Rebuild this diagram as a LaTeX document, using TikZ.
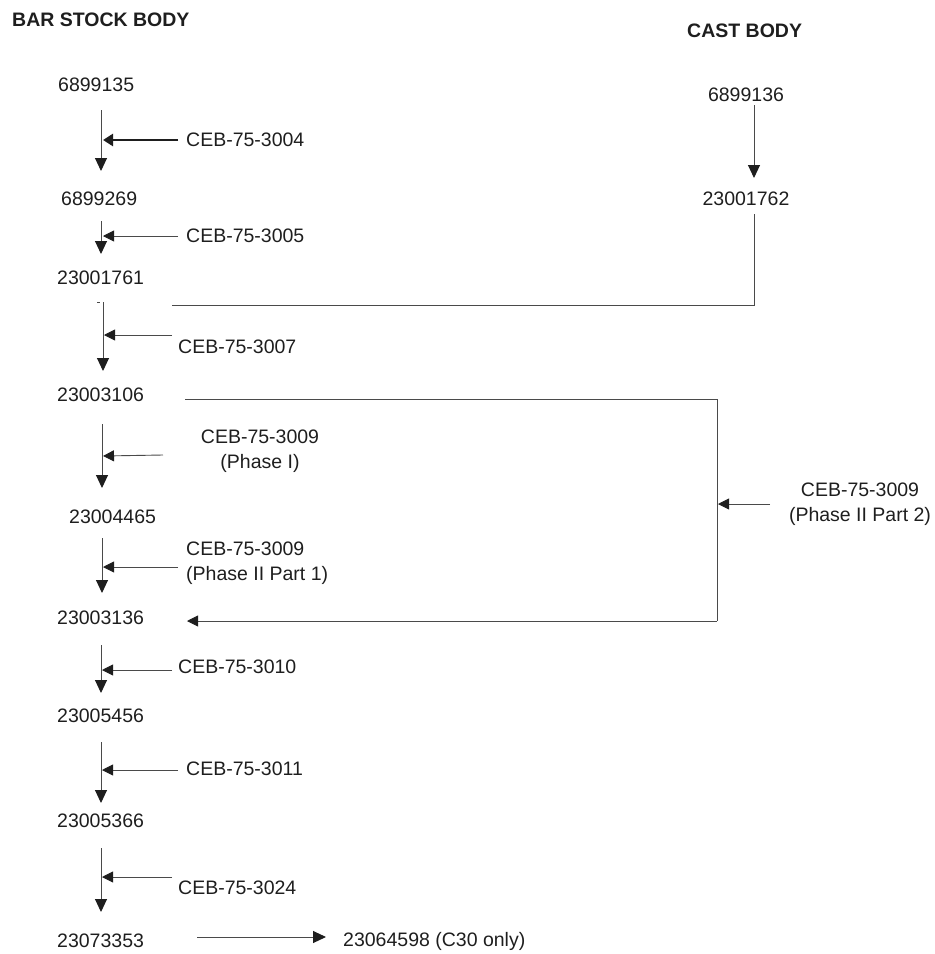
\documentclass[tikz,border=0pt]{standalone}
\usepackage{fontspec}
\setmainfont{Liberation Sans}
\usetikzlibrary{arrows.meta}
\definecolor{ink}{HTML}{1E1E1E}
\definecolor{wire}{HTML}{4A4A4A}

\tikzset{
  part/.style={inner sep=0pt, text=ink, font=\fontsize{19.5}{25}\selectfont},
  head/.style={inner sep=0pt, text=ink, font=\fontsize{19.5}{25}\selectfont\bfseries},
  ceb/.style={part, align=center},
  flow/.style={draw=wire, line width=1pt, -{Triangle[width=12pt,length=13pt,color=ink]}},
  feed/.style={draw=wire, line width=0.9pt, -{Triangle[width=11pt,length=11pt,color=ink]}},
  boldfeed/.style={draw=ink, line width=2.6pt, -{Triangle[width=12pt,length=10pt,color=ink]}},
  link/.style={draw=wire, line width=1pt},
}

\begin{document}
\begin{tikzpicture}[x=1pt,y=-1pt]
  \useasboundingbox (0,0) rectangle (935,954);

  % column headings
  \node[head, anchor=west] (hbar)  at (12,20)  {BAR STOCK BODY};
  \node[head, anchor=west] (hcast) at (687,31) {CAST BODY};

  % bar stock part numbers
  \node[part, anchor=west] (p1) at (58,85)   {6899135};
  \node[part, anchor=west] (p2) at (61,199)  {6899269};
  \node[part, anchor=west] (p3) at (57,278)  {23001761};
  \node[part, anchor=west] (p4) at (57,395)  {23003106};
  \node[part, anchor=west] (p5) at (69,517)  {23004465};
  \node[part, anchor=west] (p6) at (57,618)  {23003136};
  \node[part, anchor=west] (p7) at (57,716)  {23005456};
  \node[part, anchor=west] (p8) at (57,821)  {23005366};
  \node[part, anchor=west] (p9) at (57,941)  {23073353};
  \node[part, anchor=west] (p10) at (343,941) {23064598 (C30 only)};

  % cast body part numbers
  \node[part] (c1) at (746,95)  {6899136};
  \node[part] (c2) at (746,199) {23001762};

  % change notices
  \node[part, anchor=west] (e1) at (186,140) {CEB-75-3004};
  \node[part, anchor=west] (e2) at (186,236) {CEB-75-3005};
  \node[part, anchor=west] (e3) at (178,347) {CEB-75-3007};
  \node[ceb] (e4) at (260,451) {CEB-75-3009\\(Phase I)};
  \node[part, anchor=west, align=left] (e5) at (186,563) {CEB-75-3009\\(Phase II Part 1)};
  \node[part, anchor=west] (e6) at (178,667) {CEB-75-3010};
  \node[part, anchor=west] (e7) at (186,769) {CEB-75-3011};
  \node[part, anchor=west] (e8) at (178,888) {CEB-75-3024};
  \node[ceb] (e9) at (860,504) {CEB-75-3009\\(Phase II Part 2)};

  % end points of the connectors
  \coordinate (s1) at (101,110); \coordinate (t1) at (101,171);
  \coordinate (s2) at (101,221); \coordinate (t2) at (101,254);
  \coordinate (s3) at (103,302); \coordinate (t3) at (103,371);
  \coordinate (s4) at (102,424); \coordinate (t4) at (102,488);
  \coordinate (s5) at (102,538); \coordinate (t5) at (102,593);
  \coordinate (s6) at (101,645); \coordinate (t6) at (101,693);
  \coordinate (s7) at (101,742); \coordinate (t7) at (101,803);
  \coordinate (s8) at (101,848); \coordinate (t8) at (101,912);

  \coordinate (f1a) at (178,140); \coordinate (f1b) at (103,140);
  \coordinate (f2a) at (178,236); \coordinate (f2b) at (103,236);
  \coordinate (f3a) at (172,335); \coordinate (f3b) at (104,335);
  \coordinate (f4a) at (163,455); \coordinate (f4b) at (103,456);
  \coordinate (f5a) at (178,567); \coordinate (f5b) at (103,567);
  \coordinate (f6a) at (172,670); \coordinate (f6b) at (102,670);
  \coordinate (f7a) at (178,770); \coordinate (f7b) at (102,770);
  \coordinate (f8a) at (172,877); \coordinate (f8b) at (102,877);

  \coordinate (castA) at (754,105); \coordinate (castB) at (754,178);
  \coordinate (castC) at (754,214); \coordinate (castD) at (754,305);
  \coordinate (joinA) at (172,305);
  \coordinate (loopA) at (185,399); \coordinate (loopB) at (717,399);
  \coordinate (loopC) at (717,621); \coordinate (loopD) at (187,621);
  \coordinate (f9a) at (770,504);  \coordinate (f9b) at (718,504);
  \coordinate (lastA) at (197,937); \coordinate (lastB) at (326,937);

  % main bar stock sequence
  \draw[flow] (s1) -- (t1);
  \draw[flow] (s2) -- (t2);
  \draw[flow] (s3) -- (t3);
  \draw[link, line width=0.8pt] (97,302) -- (100,302);
  \draw[flow] (s4) -- (t4);
  \draw[flow] (s5) -- (t5);
  \draw[flow] (s6) -- (t6);
  \draw[flow] (s7) -- (t7);
  \draw[flow] (s8) -- (t8);

  % change notice arrows
  \draw[boldfeed] (f1a) -- (f1b);
  \draw[feed] (f2a) -- (f2b);
  \draw[feed] (f3a) -- (f3b);
  \draw[feed] (f4a) -- (f4b);
  \draw[feed] (f5a) -- (f5b);
  \draw[feed] (f6a) -- (f6b);
  \draw[feed] (f7a) -- (f7b);
  \draw[feed] (f8a) -- (f8b);
  \draw[feed] (f9a) -- (f9b);

  % cast body route joining the bar stock line
  \draw[flow] (castA) -- (castB);
  \draw[link] (castC) -- (castD) -- (joinA);

  % phase II bypass from 23003106 to 23003136
  \draw[link] (loopA) -- (loopB) -- (loopC);
  \draw[feed] (loopC) -- (loopD);

  % final part
  \draw[flow] (lastA) -- (lastB);
\end{tikzpicture}
\end{document}
